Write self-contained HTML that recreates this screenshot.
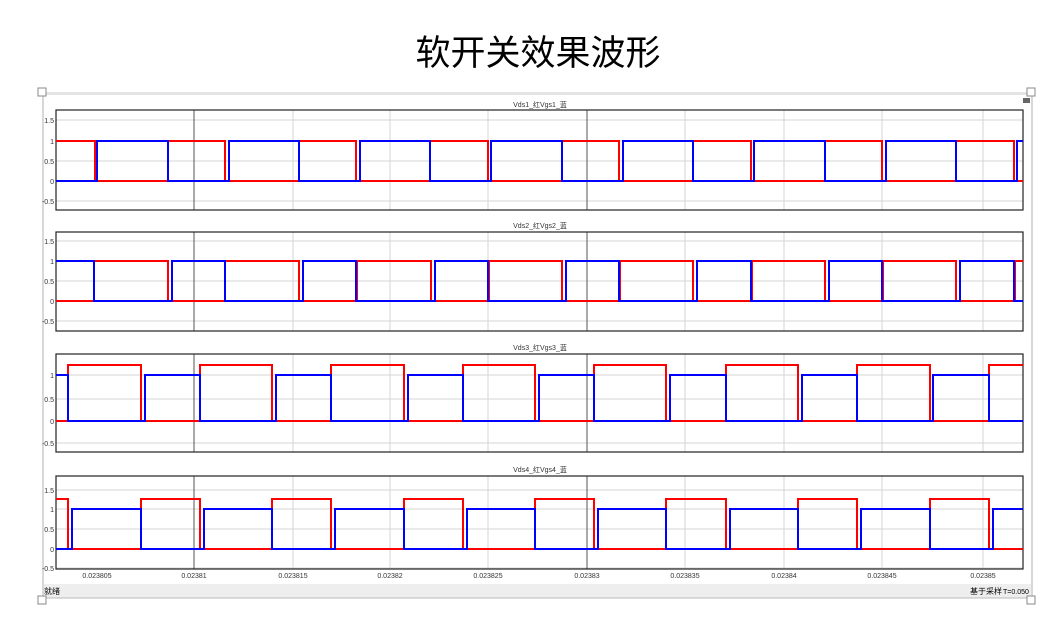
<!DOCTYPE html>
<html><head><meta charset="utf-8"><style>
html,body{margin:0;padding:0;background:#fff;width:1054px;height:632px;overflow:hidden}
.t{position:absolute;left:11px;width:1054px;top:25px;text-align:center;font:400 35px "Liberation Sans","Noto Sans CJK SC",sans-serif;color:#000;letter-spacing:0px}
</style></head><body>
<div class="t">软开关效果波形</div>
<svg width="1054" height="632" style="position:absolute;left:0;top:0" xmlns="http://www.w3.org/2000/svg" font-family="Liberation Sans, Noto Sans CJK SC, sans-serif">
<line x1="43" y1="92" x2="43" y2="598" stroke="#ccc" stroke-width="1.5"/>
<line x1="1032" y1="92" x2="1032" y2="598" stroke="#ccc" stroke-width="1.5"/>
<rect x="44" y="92" width="987" height="3" fill="#e4e4e4"/>
<rect x="38" y="88" width="8" height="8" fill="#fff" stroke="#888"/>
<rect x="1027" y="88" width="8" height="8" fill="#fff" stroke="#888"/>
<rect x="1023" y="98" width="7" height="5" fill="#666"/>
<rect x="44" y="584" width="987" height="14" fill="#eeeeee"/>
<line x1="44" y1="598" x2="1031" y2="598" stroke="#bbb"/>
<rect x="38" y="596" width="8" height="8" fill="#fff" stroke="#888"/>
<rect x="1027" y="596" width="8" height="8" fill="#fff" stroke="#888"/>
<text x="44" y="594" font-size="8" fill="#000">就绪</text>
<text x="970" y="594" font-size="8" fill="#000">基于采样</text>
<text x="1003" y="594" font-size="7" fill="#000">T=0.050</text>

<g font-size="7" fill="#333">
<text x="540" y="107" text-anchor="middle">Vds1_红Vgs1_蓝</text>
<text x="540" y="228" text-anchor="middle">Vds2_红Vgs2_蓝</text>
<text x="540" y="350" text-anchor="middle">Vds3_红Vgs3_蓝</text>
<text x="540" y="472" text-anchor="middle">Vds4_红Vgs4_蓝</text>
</g>

<g stroke="#d4d4d4" stroke-width="1">
<path d="M56,120H1023M56,161H1023M56,201H1023M56,141H1023"/>
<path d="M56,241H1023M56,281H1023M56,321H1023M56,261H1023"/>
<path d="M56,375H1023M56,399H1023M56,443H1023"/>
<path d="M56,490H1023M56,509H1023M56,529H1023M56,568H1023"/>
<path d="M293,110V210M390,110V210M488,110V210M685,110V210M784,110V210M882,110V210M983,110V210"/>
<path d="M293,232V331M390,232V331M488,232V331M685,232V331M784,232V331M882,232V331M983,232V331"/>
<path d="M293,354V452M390,354V452M488,354V452M685,354V452M784,354V452M882,354V452M983,354V452"/>
<path d="M293,476V569M390,476V569M488,476V569M685,476V569M784,476V569M882,476V569M983,476V569"/>
</g>
<g stroke="#555" stroke-width="1">
<path d="M194,110V210M587,110V210M194,232V331M587,232V331M194,354V452M587,354V452M194,476V569M587,476V569"/>
</g>
<g fill="none" stroke="#222" stroke-width="1.2">
<rect x="56" y="110" width="967" height="100"/>
<rect x="56" y="232" width="967" height="99"/>
<rect x="56" y="354" width="967" height="98"/>
<rect x="56" y="476" width="967" height="93"/>
</g>
<g font-size="7" fill="#333" text-anchor="end">
<text x="54" y="123">1.5</text><text x="54" y="144">1</text><text x="54" y="164">0.5</text><text x="54" y="184">0</text><text x="54" y="204">-0.5</text>
<text x="54" y="244">1.5</text><text x="54" y="264">1</text><text x="54" y="284">0.5</text><text x="54" y="304">0</text><text x="54" y="324">-0.5</text>
<text x="54" y="378">1</text><text x="54" y="402">0.5</text><text x="54" y="424">0</text><text x="54" y="446">-0.5</text>
<text x="54" y="493">1.5</text><text x="54" y="512">1</text><text x="54" y="532">0.5</text><text x="54" y="552">0</text><text x="54" y="571">-0.5</text>
</g>
<g font-size="7" fill="#333" text-anchor="middle">
<text x="97" y="578">0.023805</text><text x="194" y="578">0.02381</text><text x="293" y="578">0.023815</text><text x="390" y="578">0.02382</text><text x="488" y="578">0.023825</text><text x="587" y="578">0.02383</text><text x="685" y="578">0.023835</text><text x="784" y="578">0.02384</text><text x="882" y="578">0.023845</text><text x="983" y="578">0.02385</text>
</g>
<g fill="none" stroke-width="2">
<path stroke="#ff0000" d="M56,141 H95 V181 H168 V141 H225 V181 H299 V141 H356 V181 H430 V141 H488 V181 H562 V141 H619 V181 H693 V141 H751 V181 H825 V141 H882 V181 H956 V141 H1014 V181 H1023"/>
<path stroke="#0000ff" d="M56,181 H97 V141 H168 V181 H229 V141 H299 V181 H360 V141 H430 V181 H491 V141 H562 V181 H623 V141 H693 V181 H754 V141 H825 V181 H886 V141 H956 V181 H1017 V141 H1023"/>
<path stroke="#ff0000" d="M56,301 H94 V261 H168 V301 H225 V261 H299 V301 H357 V261 H431 V301 H489 V261 H562 V301 H620 V261 H693 V301 H752 V261 H825 V301 H883 V261 H956 V301 H1015 V261 H1023"/>
<path stroke="#0000ff" d="M56,261 H94 V301 H172 V261 H225 V301 H303 V261 H356 V301 H435 V261 H488 V301 H566 V261 H619 V301 H697 V261 H751 V301 H829 V261 H882 V301 H960 V261 H1014 V301 H1023"/>
<path stroke="#ff0000" d="M56,421 H68 V365 H141 V421 H200 V365 H272 V421 H331 V365 H404 V421 H463 V365 H535 V421 H594 V365 H666 V421 H726 V365 H798 V421 H857 V365 H930 V421 H989 V365 H1023"/>
<path stroke="#0000ff" d="M56,375 H68 V421 H145 V375 H200 V421 H276 V375 H331 V421 H408 V375 H463 V421 H539 V375 H594 V421 H670 V375 H726 V421 H802 V375 H857 V421 H933 V375 H989 V421 H1023"/>
<path stroke="#ff0000" d="M56,499 H68 V549 H141 V499 H200 V549 H272 V499 H331 V549 H404 V499 H463 V549 H535 V499 H594 V549 H666 V499 H726 V549 H798 V499 H857 V549 H930 V499 H989 V549 H1023"/>
<path stroke="#0000ff" d="M56,549 H72 V509 H141 V549 H204 V509 H272 V549 H335 V509 H404 V549 H467 V509 H535 V549 H598 V509 H666 V549 H730 V509 H798 V549 H861 V509 H930 V549 H993 V509 H1023"/>
</g>
</svg>
</body></html>
